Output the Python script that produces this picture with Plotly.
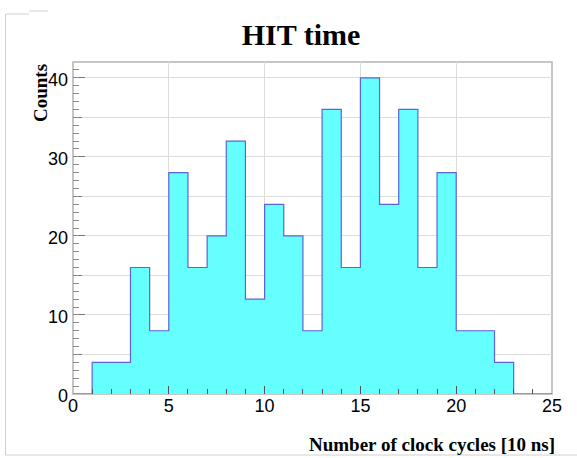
import plotly.graph_objects as go

# Histogram data: 25 bins of width 1 from 0 to 25
bin_edges = list(range(0, 26))
counts = [0, 4, 4, 16, 8, 28, 16, 20, 32, 12, 24, 20, 8, 36, 16, 40, 24, 36, 16, 28, 8, 8, 4, 0, 0]
x_ticks = [0, 5, 10, 15, 20, 25]
y_ticks = [0, 10, 20, 30, 40]

W, H = 577, 458
ML, MR, MT, MB = 73, 25, 62, 64
PW, PH = W - ML - MR, H - MT - MB

def px_x(p):
    return (p - ML) / PW

def px_y(p):
    return (H - MB - p) / PH

step_y = counts + [counts[-1]]

fig = go.Figure()
fig.add_trace(go.Scatter(
    x=bin_edges, y=step_y, mode="lines", line_shape="hv",
    line=dict(color="#5a64dc", width=1.2),
    fill="tozeroy", fillcolor="#66ffff", hoverinfo="skip", showlegend=False,
))
# invisible trace for the fine-tick overlay axis
fig.add_trace(go.Scatter(x=[0, 25], y=[0, 42], yaxis="y2", mode="markers",
                         marker=dict(opacity=0), showlegend=False, hoverinfo="skip"))

tick_font = dict(family="Liberation Sans", size=18, color="black")
fig.update_layout(
    width=W, height=H,
    margin=dict(l=ML, r=MR, t=MT, b=MB),
    paper_bgcolor="white", plot_bgcolor="white",
    title=dict(text="HIT time", x=301 / W, xref="container", xanchor="center",
               y=1 - 34 / H, yref="container", yanchor="middle",
               font=dict(family="Liberation Serif", size=30, color="black", weight="bold")),
    xaxis=dict(range=[0, 25], tickvals=x_ticks, ticks="inside", ticklen=8, tickcolor="#555",
               showgrid=True, gridcolor="#dcdcdc", gridwidth=1, zeroline=False,
               showline=False, tickfont=tick_font, ticklabelstandoff=-1,
               minor=dict(dtick=1, ticks="inside", ticklen=5, tickcolor="#555", showgrid=False)),
    yaxis=dict(range=[0, 42], tickvals=y_ticks, ticks="inside", ticklen=12, tickcolor="#777",
               showgrid=True, gridcolor="#dcdcdc", gridwidth=1, zeroline=False,
               showline=False, tickfont=tick_font, ticklabelstandoff=4, ticklabelshift=2,
               minor=dict(dtick=5, ticks="inside", ticklen=9, tickcolor="#777",
                          showgrid=True, gridcolor="#dcdcdc")),
    yaxis2=dict(range=[0, 42], overlaying="y", side="left", dtick=1, ticks="inside",
                ticklen=6, tickcolor="#888", showticklabels=False, showgrid=False,
                zeroline=False, showline=False),
    showlegend=False,
)

# plot frame
fig.add_shape(type="rect", xref="paper", yref="paper", x0=0, x1=1, y0=0, y1=1,
              line=dict(color="#b4b4b4", width=1.5), layer="between")
# faint canvas border
border = dict(color="#d0d0d0", width=1)
fig.add_shape(type="line", xref="paper", yref="paper", x0=px_x(5.5), x1=px_x(5.5),
              y0=px_y(14), y1=px_y(455), line=border)
fig.add_shape(type="line", xref="paper", yref="paper", x0=px_x(5.5), x1=px_x(577),
              y0=px_y(455), y1=px_y(455), line=border)
fig.add_shape(type="line", xref="paper", yref="paper", x0=px_x(5.5), x1=px_x(29),
              y0=px_y(14), y1=px_y(14), line=border)
fig.add_shape(type="line", xref="paper", yref="paper", x0=px_x(29), x1=px_x(48),
              y0=px_y(11), y1=px_y(11), line=border)

# axis titles
fig.add_annotation(text="Number of clock cycles [10 ns]", xref="paper", yref="paper",
                   x=px_x(557), y=px_y(445), xanchor="right", yanchor="middle", showarrow=False,
                   font=dict(family="Liberation Serif", size=19, color="black", weight="bold"))
fig.add_annotation(text="Counts", xref="paper", yref="paper", textangle=-90,
                   x=px_x(40), y=px_y(62), xanchor="center", yanchor="top", showarrow=False,
                   font=dict(family="Liberation Serif", size=19, color="black", weight="bold"))

fig.write_html("out.html")
